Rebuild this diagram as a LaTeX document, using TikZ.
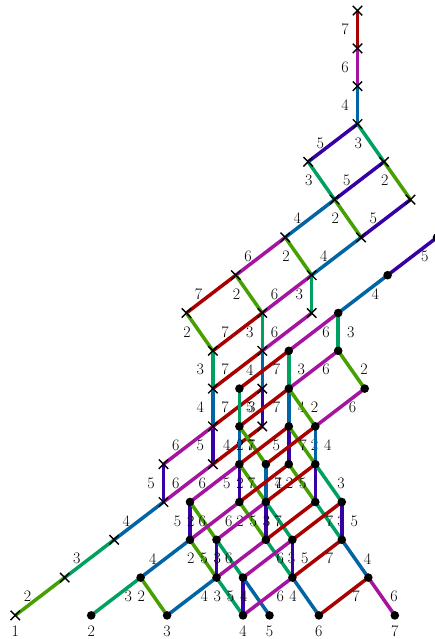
\documentclass[tikz,border=0pt]{standalone}
\usetikzlibrary{shapes.misc}
\definecolor{c2}{RGB}{70,160,0}
\definecolor{c3}{RGB}{0,160,96}
\definecolor{c4}{RGB}{0,100,165}
\definecolor{c5}{RGB}{55,0,165}
\definecolor{c6}{RGB}{165,20,160}
\definecolor{c7}{RGB}{170,0,0}
\newcommand\Vt[4]{\coordinate (#1) at ({357.5-49.4*(#2)+26.5*(#3)},{124+37.8*((#2)+(#3)+(#4))});}
\newcommand\EL[3]{\draw[edge,c#3] (#1) -- node[lab,xshift=-12.5pt]{#3} (#2);}
\newcommand\ER[3]{\draw[edge,c#3] (#1) -- node[lab,xshift=12.5pt]{#3} (#2);}
\tikzset{
  edge/.style={line width=3.5pt},
  lab/.style={midway,text=black,inner sep=0pt,font=\fontsize{16}{19}\selectfont},
  blab/.style={text=black,inner sep=0pt,font=\fontsize{16}{19}\selectfont},
  xmk/.style={draw=black,cross out,minimum size=8pt,inner sep=0pt,line width=1.4pt},
  dmk/.style={circle,fill=black,minimum size=8.6pt,inner sep=0pt}
}
\begin{document}
\begin{tikzpicture}[x=1pt,y=-1pt]
\useasboundingbox (0,0) rectangle (434,639);
% cross vertices
\Vt{xt3}{0}{0}{-3}\Vt{xt2}{0}{0}{-2}\Vt{xt1}{0}{0}{-1}
\Vt{x000}{0}{0}{0}\Vt{x100}{1}{0}{0}\Vt{x010}{0}{1}{0}
\Vt{x110}{1}{1}{0}\Vt{x020}{0}{2}{0}\Vt{x210}{2}{1}{0}\Vt{x120}{1}{2}{0}
\Vt{x310}{3}{1}{0}\Vt{x220}{2}{2}{0}\Vt{x410}{4}{1}{0}\Vt{x320}{3}{2}{0}
\Vt{x221}{2}{2}{1}\Vt{x420}{4}{2}{0}\Vt{x321}{3}{2}{1}\Vt{x421}{4}{2}{1}
\Vt{x322}{3}{2}{2}\Vt{x422}{4}{2}{2}\Vt{x323}{3}{2}{3}\Vt{x423}{4}{2}{3}
\Vt{x522}{5}{2}{2}\Vt{x523}{5}{2}{3}\Vt{x623}{6}{2}{3}\Vt{x723}{7}{2}{3}
\Vt{x823}{8}{2}{3}
% dot vertices
\Vt{d030}{0}{3}{0}\Vt{d130}{1}{3}{0}\Vt{d230}{2}{3}{0}
\Vt{d330}{3}{3}{0}\Vt{d231}{2}{3}{1}
\Vt{d430}{4}{3}{0}\Vt{d331}{3}{3}{1}\Vt{d241}{2}{4}{1}
\Vt{d431}{4}{3}{1}\Vt{d332}{3}{3}{2}\Vt{d341}{3}{4}{1}
\Vt{d432}{4}{3}{2}\Vt{d441}{4}{4}{1}\Vt{d333}{3}{3}{3}\Vt{d342}{3}{4}{2}
\Vt{d532}{5}{3}{2}\Vt{d433}{4}{3}{3}\Vt{d442}{4}{4}{2}\Vt{d343}{3}{4}{3}\Vt{d352}{3}{5}{2}
\Vt{d533}{5}{3}{3}\Vt{d542}{5}{4}{2}\Vt{d443}{4}{4}{3}\Vt{d452}{4}{5}{2}\Vt{d353}{3}{5}{3}
\Vt{d633}{6}{3}{3}\Vt{d543}{5}{4}{3}\Vt{d552}{5}{5}{2}\Vt{d453}{4}{5}{3}\Vt{d363}{3}{6}{3}
\Vt{d733}{7}{3}{3}\Vt{d643}{6}{4}{3}\Vt{d553}{5}{5}{3}\Vt{d562}{5}{6}{2}\Vt{d463}{4}{6}{3}\Vt{d373}{3}{7}{3}
% cross edges
\EL{xt3}{xt2}{7}\EL{xt2}{xt1}{6}\EL{xt1}{x000}{4}
\EL{x000}{x100}{5}\EL{x000}{x010}{3}
\EL{x100}{x110}{3}\EL{x010}{x110}{5}\EL{x010}{x020}{2}
\EL{x110}{x210}{4}\EL{x110}{x120}{2}\EL{x020}{x120}{5}
\EL{x210}{x310}{6}\EL{x210}{x220}{2}\EL{x120}{x220}{4}
\EL{x310}{x410}{7}\EL{x310}{x320}{2}\EL{x220}{x320}{6}\EL{x220}{x221}{3}
\EL{x410}{x420}{2}\EL{x320}{x420}{7}\EL{x320}{x321}{3}\EL{x221}{x321}{6}
\EL{x420}{x421}{3}\EL{x321}{x421}{7}\EL{x321}{x322}{4}
\EL{x421}{x422}{4}\EL{x322}{x422}{7}\EL{x322}{x323}{5}
\EL{x422}{x423}{5}\ER{x323}{x423}{7}
\EL{x422}{x522}{6}\EL{x423}{x523}{6}\EL{x522}{x523}{5}
\EL{x523}{x623}{4}\EL{x623}{x723}{3}\EL{x723}{x823}{2}
% dot edges
\ER{d030}{d130}{5}\ER{d130}{d230}{4}
\ER{d230}{d330}{6}\ER{d230}{d231}{3}
\ER{d330}{d331}{3}\ER{d231}{d331}{6}\ER{d231}{d241}{2}\ER{d330}{d430}{7}
\ER{d430}{d431}{3}\ER{d331}{d431}{7}\ER{d331}{d332}{4}\ER{d331}{d341}{2}\ER{d241}{d341}{6}
\EL{d431}{d432}{4}\EL{d431}{d441}{2}\EL{d332}{d432}{7}\EL{d332}{d333}{5}
\ER{d332}{d342}{2}\ER{d341}{d441}{7}\ER{d341}{d342}{4}
\EL{d432}{d532}{6}\EL{d432}{d433}{5}\EL{d432}{d442}{2}
\ER{d441}{d442}{4}
\EL{d333}{d433}{7}\EL{d333}{d343}{2}
\EL{d342}{d442}{7}\EL{d342}{d343}{5}\ER{d342}{d352}{3}
\EL{d532}{d533}{5}\EL{d532}{d542}{2}
\EL{d433}{d533}{6}\EL{d433}{d443}{2}
\EL{d442}{d542}{6}\EL{d442}{d443}{5}\EL{d442}{d452}{3}
\EL{d343}{d443}{7}\ER{d343}{d353}{3}
\ER{d352}{d452}{7}\ER{d352}{d353}{5}
\EL{d533}{d633}{4}\EL{d533}{d543}{2}
\EL{d542}{d543}{5}\EL{d542}{d552}{3}
\EL{d443}{d543}{6}\ER{d443}{d453}{3}
\ER{d452}{d552}{6}\ER{d452}{d453}{5}
\ER{d353}{d453}{7}\ER{d353}{d363}{4}
\ER{d633}{d733}{3}\EL{d633}{d643}{2}
\ER{d543}{d643}{4}\EL{d543}{d553}{3}
\EL{d552}{d553}{5}\EL{d552}{d562}{4}
\ER{d453}{d553}{6}\EL{d453}{d463}{4}
\ER{d363}{d463}{7}\ER{d363}{d373}{6}
% markers
\foreach \n in {xt3,xt2,xt1,x000,x100,x010,x110,x020,x210,x120,x310,x220,x410,x320,x221,x420,x321,x421,x322,x422,x323,x423,x522,x523,x623,x723,x823}
  \node[xmk] (m-\n) at (\n) {};
\foreach \n in {d030,d130,d230,d330,d231,d430,d331,d241,d431,d332,d341,d432,d441,d333,d342,d532,d433,d442,d343,d352,d533,d542,d443,d452,d353,d633,d543,d552,d453,d363,d733,d643,d553,d562,d463,d373}
  \node[dmk] (m-\n) at (\n) {};
% bottom labels
\node[blab] (b1) at ([yshift=-15.5pt]x823) {1};
\node[blab] (b2) at ([yshift=-15.5pt]d733) {2};
\node[blab] (b3) at ([yshift=-15.5pt]d643) {3};
\node[blab] (b4) at ([yshift=-15.5pt]d553) {4};
\node[blab] (b5) at ([yshift=-15.5pt]d562) {5};
\node[blab] (b6) at ([yshift=-15.5pt]d463) {6};
\node[blab] (b7) at ([yshift=-15.5pt]d373) {7};
\end{tikzpicture}
\end{document}
